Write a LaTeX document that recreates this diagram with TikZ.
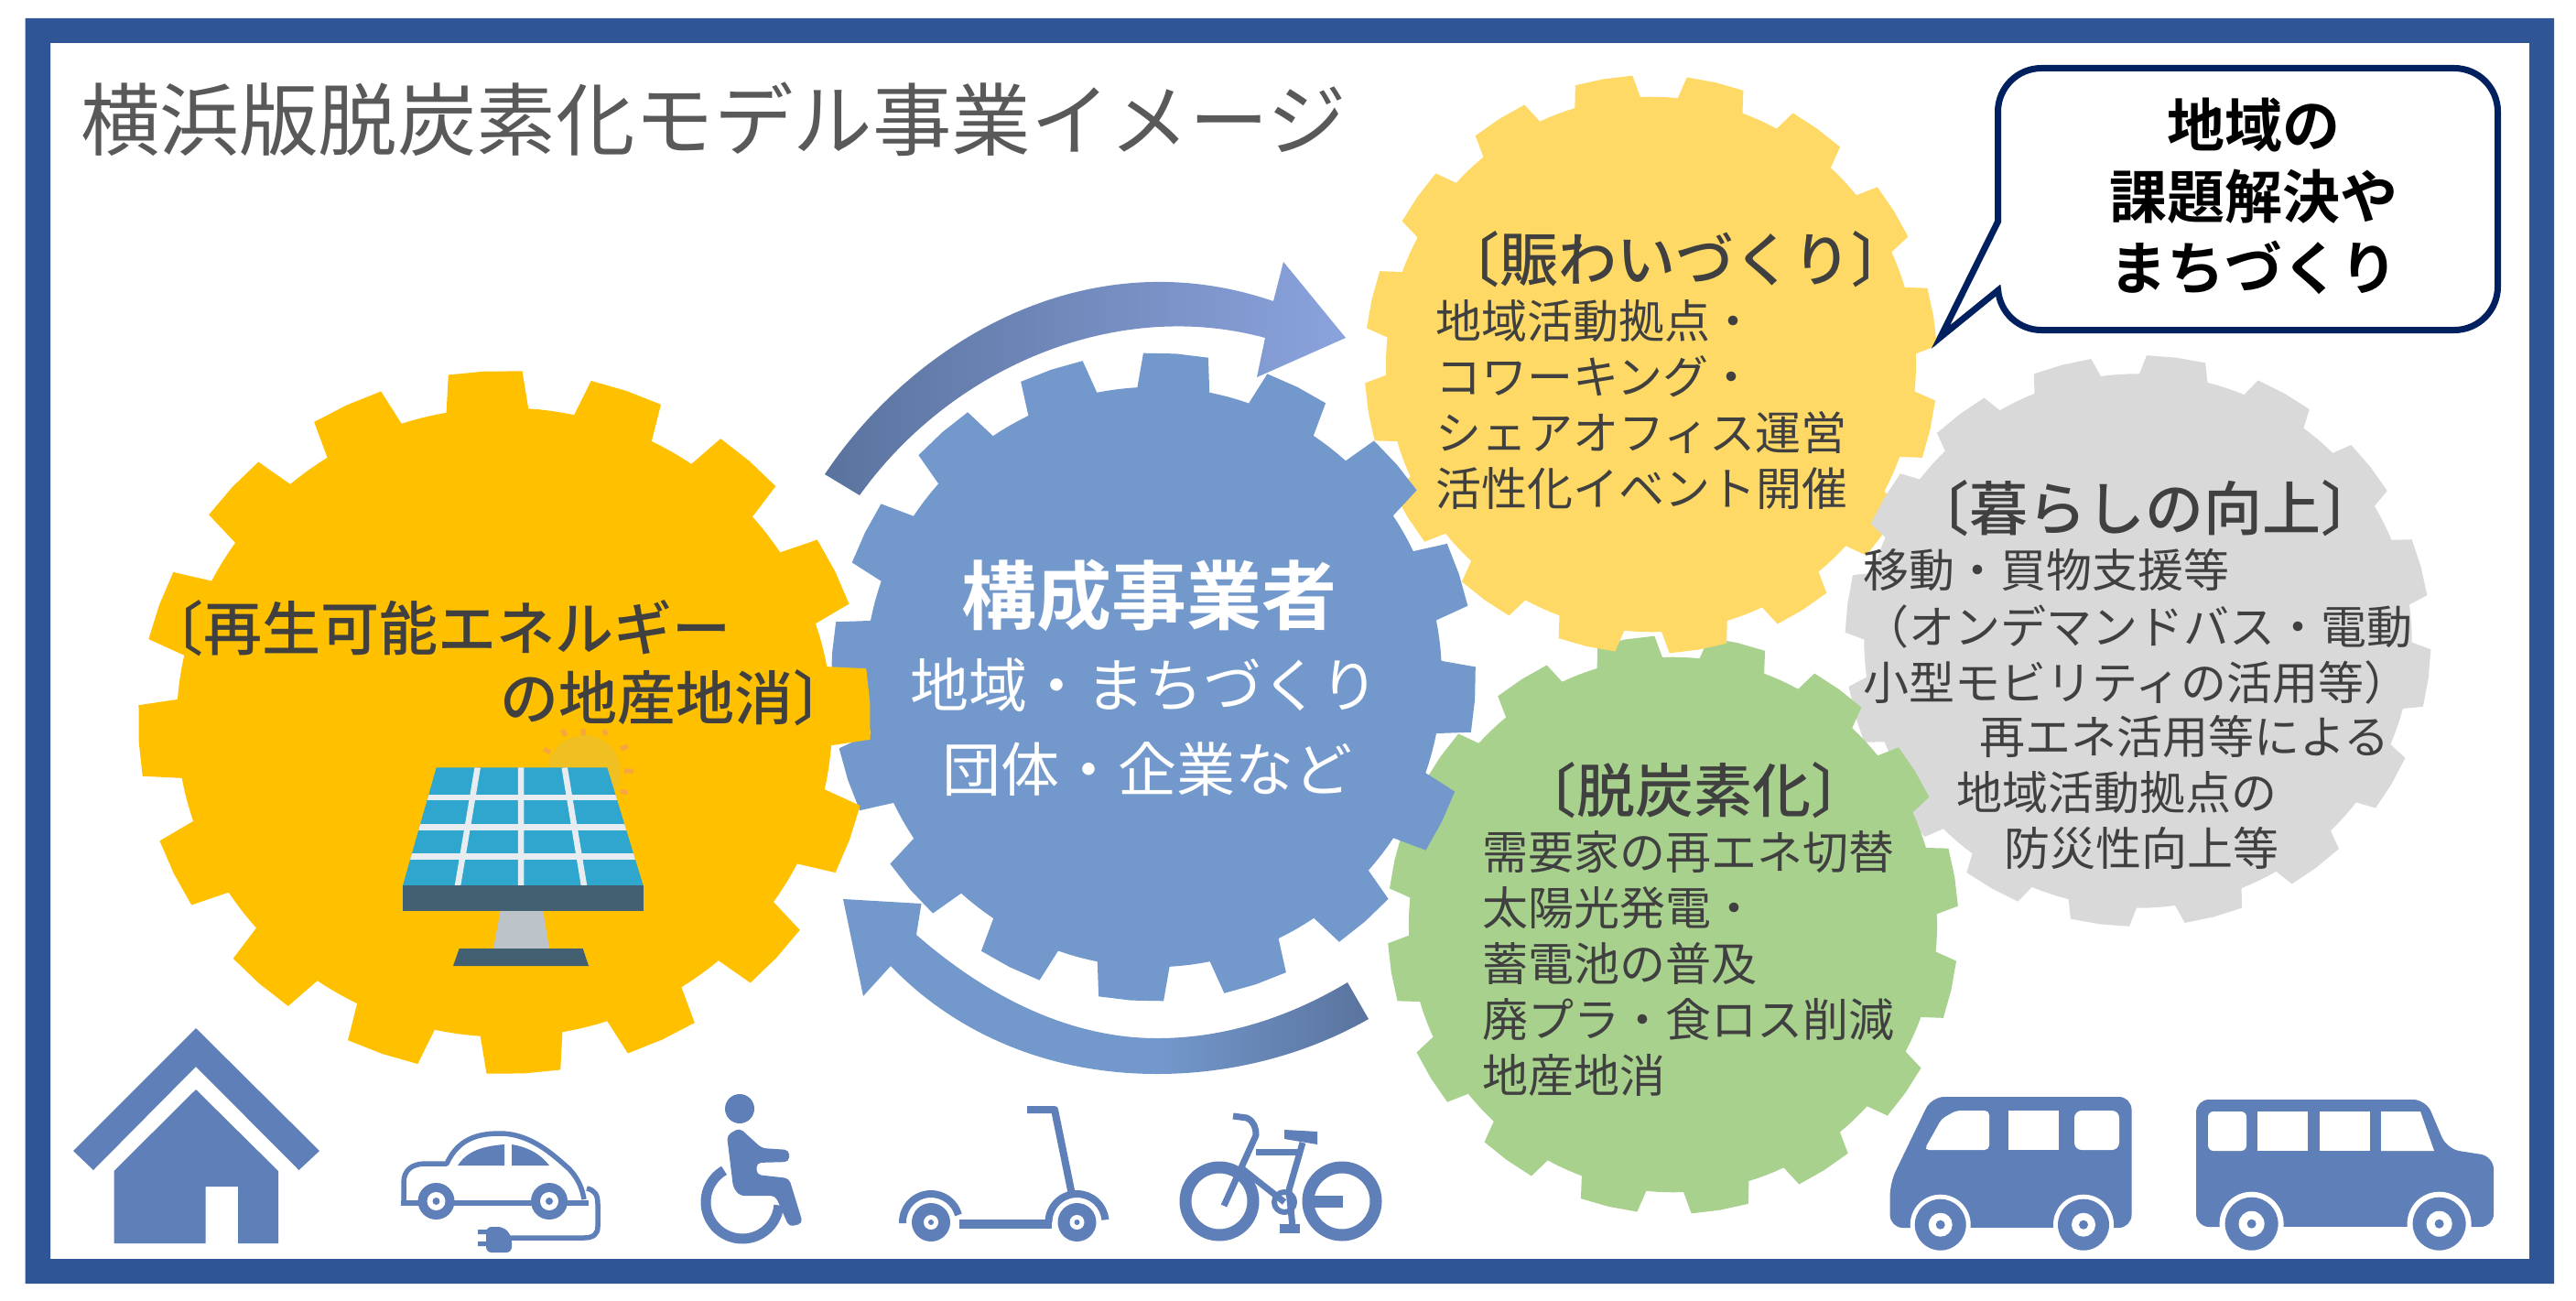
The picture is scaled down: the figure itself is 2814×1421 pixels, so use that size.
\documentclass[tikz,border=0pt]{standalone}
\usepackage{fontspec}
\setmainfont{Noto Sans CJK JP}
\newfontfamily\medfont{Noto Sans CJK JP Medium}
\newfontfamily\boldfont{Noto Sans CJK JP Bold}
\definecolor{frameblue}{HTML}{2F5597}
\definecolor{iconblue}{HTML}{5F7FB8}
\definecolor{gearorange}{HTML}{FFC000}
\definecolor{gearyellow}{HTML}{FFD966}
\definecolor{gearblue}{HTML}{7398CC}
\definecolor{geargreen}{HTML}{A9D18E}
\definecolor{geargrey}{HTML}{D9D9D9}
\definecolor{txtgrey}{HTML}{404040}
\definecolor{titlegrey}{HTML}{595959}
\definecolor{callline}{HTML}{002060}
\definecolor{panelblue}{HTML}{2EA6CE}
\definecolor{paneldark}{HTML}{436072}
\definecolor{panelgrid}{HTML}{E6ECEF}
\definecolor{panelstem}{HTML}{BCC3C9}
\definecolor{sunyellow}{HTML}{F0BF22}
\definecolor{sunray}{HTML}{F5A640}
\definecolor{arrowlight}{HTML}{8BA3DD}
\definecolor{arrowdark}{HTML}{5A739E}
\pgfdeclarehorizontalshading{lowarrow}{100bp}{color(0bp)=(gearblue); color(55bp)=(gearblue); color(75bp)=(arrowdark); color(100bp)=(arrowdark)}
\tikzset{
  linetext/.style={inner sep=0pt,anchor=west,text=txtgrey,font=\fontsize{#1}{#1}\selectfont,text height=0.88*#1pt,text depth=0.12*#1pt},
  body/.style={linetext=50},
  head/.style={linetext=64,font=\fontsize{64}{64}\selectfont\medfont},
  bluetext/.style={inner sep=0pt,anchor=center,text=white,font=\fontsize{#1}{#1}\selectfont,text height=0.88*#1pt,text depth=0.12*#1pt},
  calltext/.style={inner sep=0pt,anchor=center,text=black,font=\fontsize{63}{63}\selectfont\boldfont,text height=55pt,text depth=8pt},
  icon/.style={fill=iconblue,draw=none},
  iconline/.style={draw=iconblue,line width=#1,line cap=butt,line join=round,fill=none},
  hole/.style={fill=white,draw=none},
  ray/.style={draw=sunray,line width=5pt},
  grid/.style={draw=panelgrid,line width=6.5pt}
}
% cx, cy, rx, ry, start angle, root ratio, colour
\newcommand{\gearshape}[7]{%
  \fill[#7] ({#1+#3*#6*cos(#5-11.25)},{#2-#4*#6*sin(#5-11.25)})
  \foreach \i [evaluate=\i as \a using #5+\i*22.5] in {0,...,15}{
    -- ({#1+#3*#6*cos(\a-9.2)},{#2-#4*#6*sin(\a-9.2)})
    -- ({#1+#3*#6*cos(\a-7.2)},{#2-#4*#6*sin(\a-7.2)})
    -- ({#1+#3*cos(\a-5.8)},{#2-#4*sin(\a-5.8)})
    -- ({#1+#3*cos(\a)},{#2-#4*sin(\a)})
    -- ({#1+#3*cos(\a+5.8)},{#2-#4*sin(\a+5.8)})
    -- ({#1+#3*#6*cos(\a+7.2)},{#2-#4*#6*sin(\a+7.2)})
    -- ({#1+#3*#6*cos(\a+9.2)},{#2-#4*#6*sin(\a+9.2)})
    -- ({#1+#3*#6*cos(\a+11.25)},{#2-#4*#6*sin(\a+11.25)})
  } -- cycle;}
% wheel: cx, cy, outer r, white r, dot r
\newcommand{\wheelicon}[5]{%
  \fill[iconblue] (#1,#2) circle[radius=#3];
  \fill[white] (#1,#2) circle[radius=#4];
  \fill[iconblue] (#1,#2) circle[radius=#5];}
\begin{document}
\begin{tikzpicture}[x=1pt,y=-1pt]
\useasboundingbox (0,0) rectangle (2814,1421);
\fill[white] (0,0) rectangle (2814,1421);
\fill[frameblue,even odd rule] (27.5,20) rectangle (2790,1402) (55,47) rectangle (2763,1375);

% gears
\gearshape{2335.5}{700}{320}{312}{82.5}{0.935}{geargrey}
\gearshape{1827.5}{1010}{312}{316}{77}{0.925}{geargreen}
\gearshape{1803.5}{398}{313}{316}{77}{0.925}{gearyellow}
\begin{scope}
  \clip (2000,470) rectangle (2150,640);
  \gearshape{2335.5}{700}{320}{312}{82.5}{0.935}{geargrey}
\end{scope}
\gearshape{1260}{739.5}{352}{354}{86}{0.895}{gearblue}
\gearshape{551}{789}{400}{384}{93}{0.895}{gearorange}

% arrows
\shade[left color=arrowdark,right color=arrowlight]
  (901,518) .. controls (1000,370) and (1190,260) .. (1391,329)
  -- (1402,286) -- (1470,369) -- (1373,412) -- (1382,369)
  .. controls (1220,325) and (1040,400) .. (939,541) -- cycle;
\shade[shading=lowarrow]
  (1472,1073) .. controls (1410,1110) and (1340,1134) .. (1264,1134)
  .. controls (1170,1134) and (1080,1090) .. (1001,1021)
  -- (1006.5,987) -- (921,982) -- (943,1088) -- (973,1055)
  .. controls (1040,1125) and (1140,1173) .. (1264,1173)
  .. controls (1350,1173) and (1430,1150) .. (1495,1113) -- cycle;

% solar panel
\fill[sunyellow] (638,843) circle[radius=40];
\draw[ray] (614,797) -- (618,804) (637,796) -- (637,803) (660,797) -- (662,803) (594,818) -- (601,822) (678,818) -- (686,815) (682,842) -- (692,842) (678,864) -- (686,866);
\begin{scope}
  \clip (476.7,838.3) -- (663.3,838.3) -- (702.7,967.3) -- (440,967.3) -- cycle;
  \fill[panelblue] (430,830) rectangle (710,970);
  \draw[grid] (430,871) -- (710,871) (430,903.3) -- (710,903.3) (430,935.7) -- (710,935.7);
  \draw[grid] (521.7,838.3) -- (500,967.3) (569,838.3) -- (569,967.3) (616.7,838.3) -- (638,967.3);
\end{scope}
\fill[panelstem] (546.7,995) -- (593.3,995) -- (600,1036) -- (539,1036) -- cycle;
\fill[paneldark] (440,967.3) rectangle (702.7,995);
\fill[paneldark] (501.7,1036) -- (636.7,1036) -- (643,1055) -- (495,1055) -- cycle;

% callout
\draw[line width=7pt,draw=callline,fill=white,line join=miter]
  (2182.5,242) -- (2182.5,122) arc[start angle=180,end angle=270,radius=47.5] -- (2681,74.5)
  arc[start angle=270,end angle=360,radius=47.5] -- (2728.5,313)
  arc[start angle=0,end angle=90,radius=47.5] -- (2230,360.5)
  arc[start angle=90,end angle=175,radius=47.5] -- (2120,368) -- cycle;
\node[calltext] (c1) at (2462,137) {地域の};
\node[calltext] (c2) at (2462,215) {課題解決や};
\node[calltext] (c3) at (2462,293) {まちづくり};

% title
\node[linetext=86.5,text=titlegrey] (title) at (88,131) {横浜版脱炭素化モデル事業イメージ};

% orange gear text
\node[head] (o1) at (158,686) {〔再生可能エネルギー};
\node[head] (o2) at (546,762) {の地産地消〕};

% blue gear text
\node[bluetext=82,font=\fontsize{82}{82}\selectfont\boldfont] (b1) at (1255,650) {構成事業者};
\node[bluetext=64] (b2) at (1250,748) {地域・まちづくり};
\node[bluetext=64] (b3) at (1253,840) {団体・企業など};

% yellow gear text
\node[head] (y0) at (1574,283) {〔賑わいづくり〕};
\node[body] (y1) at (1568,350) {地域活動拠点・};
\node[body] (y2) at (1568,411) {コワーキング・};
\node[body] (y3) at (1568,472) {シェアオフィス運営};
\node[body] (y4) at (1568,533) {活性化イベント開催};

% grey gear text
\node[head] (g0) at (2087,555) {〔暮らしの向上〕};
\node[body] (g1) at (2035,622) {移動・買物支援等};
\node[body] (g2) at (2035,684) {（オンデマンドバス・電動};
\node[body] (g3) at (2035,745) {小型モビリティの活用等）};
\node[body] (g4) at (2162,804) {再エネ活用等による};
\node[body] (g5) at (2137,865) {地域活動拠点の};
\node[body] (g6) at (2189,926) {防災性向上等};

% green gear text
\node[head] (v0) at (1658,863) {〔脱炭素化〕};
\node[body] (v1) at (1619.5,930) {需要家の再エネ切替};
\node[body] (v2) at (1619.5,991) {太陽光発電・};
\node[body] (v3) at (1619.5,1052.5) {蓄電池の普及};
\node[body] (v4) at (1619.5,1113.5) {廃プラ・食ロス削減};
\node[body] (v5) at (1619.5,1174) {地産地消};

% house
\fill[icon] (214,1123) -- (349,1257) -- (326.5,1278) -- (214,1165) -- (102,1278) -- (80,1257) -- cycle;
\fill[icon] (214,1190) -- (304,1279) -- (304,1358) -- (260,1358) -- (260,1296) -- (224.5,1296) -- (224.5,1358) -- (124.5,1358) -- (124.5,1279) -- cycle;

% electric car
\draw[iconline=5.5pt] (441,1313) -- (441,1292) .. controls (441,1278) and (450,1271) .. (465,1271) -- (488,1271)
  .. controls (500,1245) and (520,1238) .. (546,1238) .. controls (580,1238) and (605,1262) .. (622,1277) .. controls (632,1288) and (636,1298) .. (638,1310);
\draw[iconline=5.5pt] (438,1314) -- (643,1314);
\fill[icon] (500,1273) .. controls (510,1258) and (525,1252) .. (551,1250) -- (551,1273) -- cycle;
\fill[icon] (559,1250) .. controls (578,1253) and (592,1262) .. (600,1273) -- (559,1273) -- cycle;
\wheelicon{476.5}{1312}{20}{10}{4}
\wheelicon{600}{1312}{20}{10}{4}
\draw[iconline=5.5pt] (641,1298) .. controls (650,1300) and (653,1305) .. (653,1315) -- (653,1340) .. controls (653,1348) and (648,1352) .. (638,1352) -- (556,1352);
\fill[icon,rounded corners=6pt] (531,1340) -- (550,1340) -- (559,1350) -- (559,1368) -- (531,1368) -- cycle;
\fill[icon] (522,1343) rectangle (532,1348) (522,1356) rectangle (532,1361);

% wheelchair
\fill[icon] (808,1211) circle[radius=16];
\fill[icon,rounded corners=5pt] (808,1232) -- (794,1240) -- (801,1297) -- (808,1306) -- (847,1306) -- (862,1340) -- (877,1336) -- (862,1287) -- (826.5,1283) -- (826.5,1270) -- (862,1269) -- (862,1256) -- (832,1254) -- cycle;
\draw[iconline=11pt] (811,1313) ++(240:40) arc[start angle=240,end angle=5,radius=40];

% scooter
\wheelicon{1017}{1335}{21}{8}{3}
\wheelicon{1176.5}{1335}{21}{8}{3}
\draw[iconline=8pt] (1017,1335) ++(178:31) arc[start angle=178,end angle=345,radius=31];
\draw[iconline=8pt] (1176.5,1335) ++(180:31) arc[start angle=180,end angle=355,radius=31];
\fill[icon] (1048,1332) rectangle (1149,1342);
\draw[iconline=8pt] (1122,1212) -- (1152,1212) -- (1171,1305);

% bicycle
\draw[iconline=13pt] (1332,1312) circle[radius=37];
\draw[iconline=13pt] (1466,1312) circle[radius=37];
\draw[iconline=7pt] (1347,1219) -- (1362,1221) .. controls (1370,1225) and (1372,1232) .. (1372,1240) -- (1337,1317);
\fill[icon] (1403,1234) -- (1439,1236) -- (1439,1250) -- (1403,1244) -- cycle;
\draw[iconline=7pt] (1423,1248) -- (1408,1300) -- (1412,1340);
\draw[iconline=7pt] (1372,1258) -- (1423,1258);
\draw[iconline=7pt] (1355,1275) -- (1403,1313);
\draw[iconline=6pt] (1403,1313) circle[radius=11];
\fill[icon] (1398,1337) rectangle (1420,1347);
\fill[icon] (1423,1306) rectangle (1467,1319);

% van
\fill[icon,rounded corners=14pt] (2064.6,1341) -- (2064.6,1292) -- (2110,1198) -- (2328.5,1198) -- (2328.5,1341) -- cycle;
\fill[hole,rounded corners=5pt] (2173,1213) -- (2137,1213) -- (2121,1222) -- (2102,1256) -- (2173,1256) -- cycle;
\fill[hole] (2194,1213) rectangle (2249,1256);
\fill[hole,rounded corners=8pt] (2266,1213) -- (2315,1213) -- (2315,1256) -- (2266,1256) -- cycle;
\fill[white] (2119.7,1337.7) circle[radius=33];
\fill[white] (2276,1337.7) circle[radius=33];
\fill[white] (2090,1341) rectangle (2305,1372);
\wheelicon{2119.7}{1337.7}{28}{13}{5}
\wheelicon{2276}{1337.7}{28}{13}{5}

% bus
\fill[icon,rounded corners=14pt] (2399,1340) -- (2399,1201) -- (2650,1201) -- (2673,1255) -- (2724,1263) -- (2724,1340) -- cycle;
\fill[hole,rounded corners=6pt] (2454,1214) -- (2412,1214) -- (2412,1257) -- (2454,1257) -- cycle;
\fill[hole] (2466,1214) rectangle (2521,1257);
\fill[hole] (2533.5,1214) rectangle (2588.6,1257);
\fill[hole] (2601,1214) -- (2644,1214) -- (2659,1257) -- (2601,1257) -- cycle;
\fill[white] (2459.6,1336.7) circle[radius=35];
\fill[white] (2664.6,1336.7) circle[radius=35];
\fill[white] (2425,1340) rectangle (2700,1372);
\wheelicon{2459.6}{1336.7}{29}{14}{5}
\wheelicon{2664.6}{1336.7}{29}{14}{5}
\end{tikzpicture}
\end{document}
